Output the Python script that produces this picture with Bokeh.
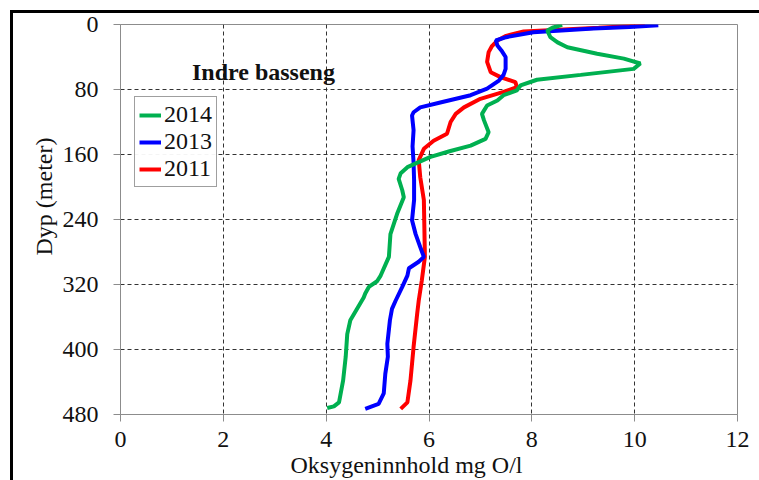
from bokeh.plotting import figure
from bokeh.models import Range1d, FixedTicker, Legend, LegendItem, Label, Title
from bokeh.embed import file_html
from bokeh.resources import INLINE

# ---- data ----
DEPTH_2014 = [0.5, 4, 7.4, 15.6, 22, 28, 36, 42, 48, 54.6, 62, 68, 75, 81, 87, 93.5, 99.7,
              110, 118, 132.5, 140.7, 149, 156, 163, 175.6, 183, 190, 204, 212.6, 233, 258,
              286, 309, 316, 323, 331, 336, 364, 381, 409, 438, 465, 470, 472]
OXY_2014 = [8.59, 8.4, 8.3, 8.36, 8.5, 8.69, 9.27, 9.79, 10.11, 9.98, 8.95, 8.1, 7.78, 7.71,
            7.45, 7.33, 7.13, 7.03, 7.07, 7.16, 7.1, 6.81, 6.4, 6.03, 5.58, 5.45, 5.41, 5.48,
            5.51, 5.38, 5.25, 5.22, 5.06, 4.99, 4.83, 4.76, 4.73, 4.47, 4.41, 4.38, 4.33,
            4.25, 4.15, 4.02]

DEPTH_2013 = [1, 3, 5, 9.5, 15.6, 19.7, 25.8, 33, 40, 54.6, 62, 69, 79, 87, 96, 102, 108,
              112, 130, 150, 170, 192, 216, 241, 258, 274, 286, 292, 300, 309, 323, 340, 350,
              364, 393, 409, 430, 454, 467, 473]
OXY_2013 = [10.46, 9.9, 9.2, 8.03, 7.5, 7.3, 7.33, 7.42, 7.49, 7.49, 7.45, 7.36, 7.13, 6.81,
            6.22, 5.83, 5.7, 5.67, 5.7, 5.68, 5.7, 5.71, 5.71, 5.67, 5.74, 5.83, 5.9, 5.8,
            5.61, 5.58, 5.48, 5.35, 5.28, 5.24, 5.19, 5.2, 5.15, 5.12, 5.02, 4.76]

DEPTH_2011 = [1, 4, 8.6, 14, 19.7, 27, 34, 46, 58.7, 64.8, 71, 77, 83, 91.5, 102, 110, 120,
              134.5, 143, 153, 167, 188, 216, 250, 286, 315, 340, 356, 397, 438, 465, 473]
OXY_2011 = [10.2, 9.3, 7.84, 7.5, 7.33, 7.22, 7.16, 7.13, 7.2, 7.39, 7.68, 7.71, 7.45, 7.0,
            6.68, 6.52, 6.42, 6.35, 6.09, 5.9, 5.8, 5.83, 5.9, 5.91, 5.92, 5.86, 5.8, 5.77,
            5.7, 5.64, 5.58, 5.45]

X_TICKS = [0, 2, 4, 6, 8, 10, 12]
Y_TICKS = [0, 80, 160, 240, 320, 400, 480]
SERIES_LABELS = ["2014", "2013", "2011"]
TITLE = "Indre basseng"
X_LABEL = "Oksygeninnhold mg O/l"
Y_LABEL = "Dyp (meter)"

FONT = "Liberation Serif"
GREEN, BLUE, RED = "#00B050", "#0000FF", "#FF0000"
FRAME = "#8c8c8c"

p = figure(width=759, height=480, output_backend="svg", toolbar_location=None,
           x_range=Range1d(0, 12), y_range=Range1d(480, 0),
           min_border_left=120, min_border_right=22, min_border_top=24, min_border_bottom=66)
# thick black outer frame (left and top edges), drawn behind a transparent border area
p.styles = {
    "background-color": "white",
    "background-image": "linear-gradient(black, black), linear-gradient(black, black)",
    "background-size": "3px 100%, 100% 3px",
    "background-position": "10px 10px, 10px 10px",
    "background-repeat": "no-repeat",
}
p.background_fill_color = "white"
p.border_fill_alpha = 0
p.outline_line_color = FRAME
p.outline_line_width = 1

for ax, ticks in ((p.xaxis[0], X_TICKS), (p.yaxis[0], Y_TICKS)):
    ax.ticker = FixedTicker(ticks=ticks)
    ax.axis_line_color = FRAME
    ax.major_tick_line_color = FRAME
    ax.major_tick_out = 7
    ax.major_tick_in = 0
    ax.minor_tick_out = 0
    ax.minor_tick_in = 0
    ax.major_label_text_font = FONT
    ax.major_label_text_font_style = "normal"
    ax.major_label_text_font_size = "24px"
    ax.major_label_text_color = "#111111"
    ax.major_label_standoff = 10 if ax is p.xaxis[0] else 15

p.xgrid.ticker = FixedTicker(ticks=X_TICKS[1:-1])
p.ygrid.ticker = FixedTicker(ticks=Y_TICKS[1:-1])
for g in (p.xgrid, p.ygrid):
    g.grid_line_color = "#333333"
    g.grid_line_width = 1
    g.grid_line_dash = "4 3"

r11 = p.line(OXY_2011, DEPTH_2011, line_color=RED, line_width=4)
r13 = p.line(OXY_2013, DEPTH_2013, line_color=BLUE, line_width=4)
r14 = p.line(OXY_2014, DEPTH_2014, line_color=GREEN, line_width=4)

legend = Legend(items=[LegendItem(label=SERIES_LABELS[0], renderers=[r14]),
                       LegendItem(label=SERIES_LABELS[1], renderers=[r13]),
                       LegendItem(label=SERIES_LABELS[2], renderers=[r11])],
                location=(14, 227))
legend.border_line_color = "#404040"
legend.border_line_width = 1
legend.label_text_font = FONT
legend.label_text_font_style = "normal"
legend.label_text_font_size = "24px"
legend.label_text_color = "#111111"
legend.glyph_width = 22
legend.glyph_height = 20
legend.label_standoff = 3
legend.padding = 4
legend.spacing = 0
legend.margin = 0
p.add_layout(legend)

p.add_layout(Label(x=1.39, y=59, text=TITLE, text_font=FONT, text_font_size="24px",
                   text_font_style="bold", text_align="left", text_baseline="alphabetic",
                   text_color="#111111"))

p.add_layout(Title(text=Y_LABEL, align="left", offset=159, standoff=5,
                   text_font=FONT, text_font_size="24px", text_font_style="normal",
                   text_color="#111111"), "left")
p.add_layout(Title(text=X_LABEL, align="left", offset=170, standoff=0,
                   text_font=FONT, text_font_size="24px", text_font_style="normal",
                   text_color="#111111"), "below")

open("out.html", "w").write(file_html(p, INLINE))
